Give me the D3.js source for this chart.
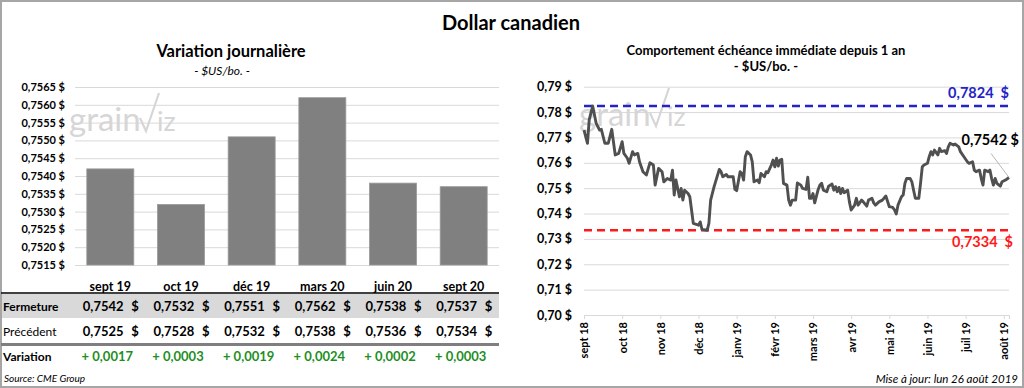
<!DOCTYPE html>
<meta charset="utf-8">
<script src="https://d3js.org/d3.v7.min.js"></script>
<style>
  body { margin: 0; background: #fff; }
  text { font-family: Lato, "Open Sans", sans-serif; }
</style>
<div id="my_dataviz"></div>
<script>

// ---- data ----
var contracts = ["sept 19", "oct 19", "déc 19", "mars 20", "juin 20", "sept 20"];
var closing   = [0.7542, 0.7532, 0.7551, 0.7562, 0.7538, 0.7537];
var previous  = [0.7525, 0.7528, 0.7532, 0.7538, 0.7536, 0.7534];
var variation = [0.0017, 0.0003, 0.0019, 0.0024, 0.0002, 0.0003];
var barTicks  = [0.7515, 0.7520, 0.7525, 0.7530, 0.7535, 0.7540, 0.7545, 0.7550, 0.7555, 0.7560, 0.7565];

// front month, one year (trading day index, close)
var tradingDay = [0,2,3,5,7,9,10,12,14,16,18,20,22,23,25,26,28,29,31,32,34,36,38,40,41,43,45,46,48,50,
  51,52,53,55,56,57,58,60,61,62,63,66,67,68,71,72,73,75,78,79,80,82,83,86,87,88,90,91,92,93,
  94,96,97,98,100,101,102,104,105,106,108,109,110,111,112,113,114,115,117,118,119,120,122,123,125,126,128,129,130,131,
  132,133,135,136,137,138,140,141,143,144,145,146,147,148,149,150,152,153,154,156,157,158,160,161,163,164,166,167,168,170,
  172,174,176,178,179,180,181,183,184,185,186,188,189,190,191,193,194,195,196,198,199,200,201,202,204,205,206,208,209,210,
  211,213,214,216,217,219,221,222,224,225,226,228,229,230,231,233,234,235,236,237,238,240,241,243,245];
var dailyClose = [0.7729,0.7677,0.7769,0.7824,0.7756,0.7729,0.7732,0.7677,0.7677,0.7732,
  0.7631,0.7637,0.7683,0.7637,0.7618,0.7598,0.7644,0.7631,0.7637,0.7604,
  0.7565,0.7552,0.7600,0.7591,0.7512,0.7578,0.7565,0.7525,0.7538,0.7532,
  0.7571,0.7473,0.7532,0.7466,0.7499,0.7453,0.7492,0.7479,0.7466,0.7414,
  0.7361,0.7354,0.7367,0.7337,0.7334,0.7361,0.7453,0.7506,0.7574,0.7565,
  0.7545,0.7554,0.7545,0.7545,0.7495,0.7490,0.7565,0.7558,0.7532,0.7624,
  0.7644,0.7631,0.7604,0.7525,0.7532,0.7521,0.7558,0.7545,0.7565,0.7561,
  0.7591,0.7611,0.7584,0.7618,0.7587,0.7611,0.7614,0.7519,0.7512,0.7453,
  0.7433,0.7453,0.7453,0.7521,0.7512,0.7499,0.7495,0.7543,0.7460,0.7460,
  0.7479,0.7442,0.7495,0.7512,0.7519,0.7492,0.7486,0.7508,0.7516,0.7492,
  0.7506,0.7486,0.7503,0.7479,0.7499,0.7482,0.7492,0.7446,0.7414,0.7433,
  0.7460,0.7433,0.7453,0.7446,0.7429,0.7453,0.7460,0.7442,0.7433,0.7446,
  0.7453,0.7469,0.7427,0.7424,0.7414,0.7398,0.7433,0.7466,0.7473,0.7519,
  0.7538,0.7538,0.7525,0.7492,0.7460,0.7460,0.7519,0.7584,0.7591,0.7598,
  0.7624,0.7644,0.7631,0.7650,0.7631,0.7657,0.7644,0.7648,0.7637,0.7663,
  0.7677,0.7670,0.7674,0.7663,0.7644,0.7624,0.7604,0.7598,0.7604,0.7571,
  0.7565,0.7571,0.7538,0.7512,0.7571,0.7565,0.7571,0.7538,0.7512,0.7538,
  0.7519,0.7508,0.7525,0.7532,0.7542];
var monthLabels = ["sept 18","oct 18","nov 18","déc 18","janv 19","févr 19","mars 19","avr 19","mai 19","juin 19","juil 19","août 19"];
var monthTickDay = [0,22,44,66,88,110,132,154,176,198,220,242];
var lineTicks = [0.70,0.71,0.72,0.73,0.74,0.75,0.76,0.77,0.78,0.79];
var yearHigh = 0.7824, yearLow = 0.7334, lastClose = 0.7542;

// ---- helpers ----
var fmt4 = function(v) { return d3.format(".4f")(v).replace(".", ","); };
var fmt2 = function(v) { return d3.format(".2f")(v).replace(".", ","); };
var nb = "\u00a0";

var svg = d3.select("#my_dataviz")
  .append("svg")
    .attr("width", 1024)
    .attr("height", 388);

// outer frame
svg.append("rect")
  .attr("x", 1).attr("y", 1).attr("width", 1022).attr("height", 386)
  .attr("fill", "#fff").attr("stroke", "#a6a6a6").attr("stroke-width", 2);

svg.append("text")
  .attr("x", 511).attr("y", 30)
  .attr("text-anchor", "middle")
  .style("font-size", "20px").style("font-weight", "bold")
  .text("Dollar canadien");

// watermark logo
function logo(tx, ty) {
  var g = svg.append("g").attr("transform", "translate(" + tx + "," + ty + ")")
    .style("fill", "#d6d6d6");
  g.append("text").attr("x", 0).attr("y", 0)
    .style("font-size", "33px").text("grain");
  g.append("path")
    .attr("d", "M71,-13 L77,0 L90,-38")
    .attr("fill", "none").attr("stroke", "#d6d6d6").attr("stroke-width", 2.2);
  g.append("text").attr("x", 88).attr("y", 0)
    .style("font-size", "27px").text("iz");
}

// ================= left: daily variation =================
var L = {left: 75, right: 499, top: 87, bottom: 265};

svg.append("text")
  .attr("x", 231).attr("y", 57).attr("text-anchor", "middle")
  .style("font-size", "16.5px").style("font-weight", "bold")
  .text("Variation journalière");
svg.append("text")
  .attr("x", 222).attr("y", 75).attr("text-anchor", "middle")
  .style("font-size", "12px").style("font-style", "italic")
  .text("- $US/bo. -");

var xb = d3.scaleBand()
  .domain(contracts)
  .range([L.left, L.right])
  .paddingInner(0.335)
  .paddingOuter(0.167);

var yb = d3.scaleLinear()
  .domain([0.7515, 0.7565])
  .range([L.bottom, L.top]);

var yAxisL = svg.append("g")
  .attr("transform", "translate(" + L.left + ",0)")
  .call(d3.axisLeft(yb).tickValues(barTicks).tickSize(-(L.right - L.left)).tickPadding(10)
    .tickFormat(function(d) { return fmt4(d) + " $"; }));
yAxisL.select(".domain").remove();
yAxisL.selectAll("line").attr("stroke", "#d9d9d9");
yAxisL.selectAll("text").style("font-size", "11px").style("font-weight", "bold")
  .style("font-family", "Lato, sans-serif").attr("fill", "#000");

logo(69, 131);

svg.append("g")
  .selectAll("rect")
  .data(closing)
  .enter()
  .append("rect")
    .attr("x", function(d, i) { return xb(contracts[i]); })
    .attr("y", function(d) { return yb(d); })
    .attr("width", xb.bandwidth())
    .attr("height", function(d) { return L.bottom - yb(d); })
    .attr("fill", "#808080")
    .attr("stroke", "#9a9a9a")
    .attr("stroke-width", 0.8);

// category labels
svg.append("g")
  .selectAll("text")
  .data(contracts)
  .enter()
  .append("text")
    .attr("x", function(d) { return xb(d) + xb.bandwidth() / 2; })
    .attr("y", 291)
    .attr("text-anchor", "middle")
    .style("font-size", "12.5px").style("font-weight", "bold")
    .text(function(d) { return d; });

// table
svg.append("rect").attr("x", 2).attr("y", 294).attr("width", 497).attr("height", 24).attr("fill", "#d9d9d9");
svg.append("line").attr("x1", 1).attr("x2", 499).attr("y1", 293).attr("y2", 293)
  .attr("stroke", "#000").attr("stroke-width", 1.5);
svg.append("line").attr("x1", 1).attr("x2", 499).attr("y1", 344.5).attr("y2", 344.5)
  .attr("stroke", "#7f7f7f").attr("stroke-width", 3);

var rows = [
  {label: "Fermeture", y: 311, bold: true},
  {label: "Précédent", y: 336, bold: false},
  {label: "Variation", y: 361, bold: true}
];
svg.append("g").selectAll("text")
  .data(rows).enter().append("text")
    .attr("x", 3).attr("y", function(d) { return d.y; })
    .style("font-size", "12px")
    .style("font-weight", function(d) { return d.bold ? "bold" : "normal"; })
    .text(function(d) { return d.label; });

function priceRow(values, y) {
  var g = svg.append("g");
  g.selectAll(".num").data(values).enter().append("text")
    .attr("x", function(d, i) { return xb(contracts[i]) - 4; })
    .attr("y", y)
    .style("font-size", "13px").style("font-weight", "bold")
    .text(function(d) { return fmt4(d); });
  g.selectAll(".cur").data(values).enter().append("text")
    .attr("x", function(d, i) { return xb(contracts[i]) + xb.bandwidth() + 5; })
    .attr("y", y)
    .attr("text-anchor", "end")
    .style("font-size", "13px").style("font-weight", "bold")
    .text("$");
}
priceRow(closing, 311);
priceRow(previous, 336);

svg.append("g").selectAll("text")
  .data(variation).enter().append("text")
    .attr("x", function(d, i) { return xb(contracts[i]) + xb.bandwidth() / 2 - 3; })
    .attr("y", 361)
    .attr("text-anchor", "middle")
    .attr("fill", "#1e8f1e")
    .style("font-size", "13px").style("font-weight", "bold")
    .text(function(d) { return "+ " + fmt4(d); });

svg.append("text")
  .attr("x", 4).attr("y", 382)
  .style("font-size", "10px").style("font-style", "italic")
  .text("Source: CME Group");

// ================= right: front month over one year =================
var R = {left: 584, right: 1009, top: 86.7, bottom: 315};

svg.append("text")
  .attr("x", 766).attr("y", 55).attr("text-anchor", "middle")
  .style("font-size", "13px").style("font-weight", "bold")
  .text("Comportement échéance immédiate depuis 1 an");
svg.append("text")
  .attr("x", 766).attr("y", 71).attr("text-anchor", "middle")
  .style("font-size", "13px").style("font-weight", "bold")
  .text("- $US/bo. -");

var x = d3.scaleLinear()
  .domain([0, 245])
  .range([R.left, R.right]);

var y = d3.scaleLinear()
  .domain([0.70, 0.79])
  .range([R.bottom, R.top]);

var yAxisR = svg.append("g")
  .attr("transform", "translate(" + R.left + ",0)")
  .call(d3.axisLeft(y).tickValues(lineTicks).tickSize(-(R.right - R.left)).tickPadding(12)
    .tickFormat(function(d) { return fmt2(d) + " $"; }));
yAxisR.select(".domain").remove();
yAxisR.selectAll("line").attr("stroke", "#d9d9d9");
yAxisR.selectAll("text").style("font-size", "12.5px").style("font-weight", "bold")
  .style("font-family", "Lato, sans-serif").attr("fill", "#000");

var xAxisR = svg.append("g")
  .attr("transform", "translate(0," + R.bottom + ")")
  .call(d3.axisBottom(x).tickValues(monthTickDay).tickSize(4).tickPadding(6)
    .tickFormat(function(d, i) { return monthLabels[i]; }));
xAxisR.select(".domain").attr("stroke", "#d9d9d9");
xAxisR.selectAll("line").attr("stroke", "#d9d9d9");
xAxisR.selectAll("text")
  .attr("transform", "rotate(-90)")
  .attr("x", -7).attr("y", 0).attr("dy", "0.35em")
  .attr("text-anchor", "end")
  .style("font-size", "11px").style("font-weight", "bold")
  .style("font-family", "Lato, sans-serif").attr("fill", "#000");

logo(579, 126);

// year high / low
svg.append("line")
  .attr("x1", R.left).attr("x2", R.right).attr("y1", y(yearHigh)).attr("y2", y(yearHigh))
  .attr("stroke", "#2323c8").attr("stroke-width", 2.5).attr("stroke-dasharray", "8,5");
svg.append("line")
  .attr("x1", R.left).attr("x2", R.right).attr("y1", y(yearLow)).attr("y2", y(yearLow))
  .attr("stroke", "#ff1a1a").attr("stroke-width", 2.5).attr("stroke-dasharray", "8,5");

var points = tradingDay.map(function(d, i) { return [d, dailyClose[i]]; });

svg.append("path")
  .datum(points)
  .attr("fill", "none")
  .attr("stroke", "#505050")
  .attr("stroke-width", 2.9)
  .attr("stroke-linejoin", "round")
  .attr("d", d3.line()
    .x(function(d) { return x(d[0]); })
    .y(function(d) { return y(d[1]); }));

svg.append("text")
  .attr("x", R.right).attr("y", y(yearHigh) - 8).attr("text-anchor", "end")
  .attr("fill", "#2323c8")
  .style("font-size", "14.5px").style("font-weight", "bold")
  .text(fmt4(yearHigh) + nb + nb + "$");
svg.append("text")
  .attr("x", R.right + 4).attr("y", y(yearLow) + 17).attr("text-anchor", "end")
  .attr("fill", "#ff1a1a")
  .style("font-size", "14.5px").style("font-weight", "bold")
  .text(fmt4(yearLow) + nb + nb + "$");

// last close callout
var lastX = x(tradingDay[tradingDay.length - 1]), lastY = y(lastClose);
svg.append("line")
  .attr("x1", lastX - 18).attr("y1", lastY - 24).attr("x2", lastX).attr("y2", lastY)
  .attr("stroke", "#a6a6a6").attr("stroke-width", 0.8);
svg.append("text")
  .attr("x", 1019).attr("y", 145).attr("text-anchor", "end")
  .style("font-size", "14.5px").style("font-weight", "bold")
  .text(fmt4(lastClose) + nb + "$");

svg.append("text")
  .attr("x", 1018).attr("y", 383).attr("text-anchor", "end")
  .style("font-size", "11.5px").style("font-style", "italic")
  .text("Mise à jour: lun 26 août 2019");

</script>
